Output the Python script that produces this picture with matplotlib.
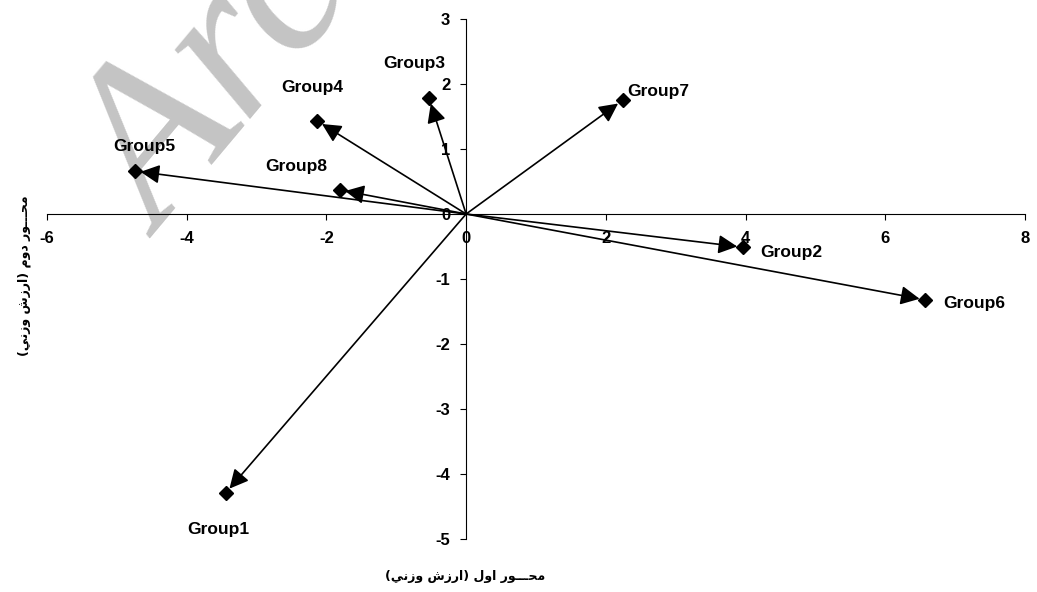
import matplotlib
matplotlib.use('Agg')
import matplotlib.pyplot as plt

# group coordinates on the first and second axes
groups = ['Group1', 'Group2', 'Group3', 'Group4', 'Group5', 'Group6', 'Group7', 'Group8']
axis1 = [-3.44, 3.96, -0.53, -2.13, -4.74, 6.57, 2.24, -1.81]
axis2 = [-4.29, -0.51, 1.78, 1.43, 0.66, -1.32, 1.75, 0.37]

xticks = [-6, -4, -2, 0, 2, 4, 6, 8]
yticks = [-5, -4, -3, -2, -1, 0, 1, 2, 3]

xlabel_text = 'محـــور اول (ارزش وزني)'
ylabel_text = 'محـــور دوم (ارزش وزني)'

# where each group name sits relative to its point (pixels)
label_offsets = [(-7, -37), (49, -5), (-15, 35), (-5, 34), (9, 25), (49, -4), (36, 9), (-43, 23)]

# matplotlib has no arabic shaping, so pick the joined glyph forms by hand
FORMS = {
    'ا': ('\ufe8d', '\ufe8e', None, None),
    'د': ('\ufea9', '\ufeaa', None, None),
    'ر': ('\ufead', '\ufeae', None, None),
    'ز': ('\ufeaf', '\ufeb0', None, None),
    'و': ('\ufeed', '\ufeee', None, None),
    'ح': ('\ufea1', '\ufea2', '\ufea3', '\ufea4'),
    'ش': ('\ufeb5', '\ufeb6', '\ufeb7', '\ufeb8'),
    'ل': ('\ufedd', '\ufede', '\ufedf', '\ufee0'),
    'م': ('\ufee1', '\ufee2', '\ufee3', '\ufee4'),
    'ن': ('\ufee5', '\ufee6', '\ufee7', '\ufee8'),
    'ي': ('\ufef1', '\ufef2', '\ufef3', '\ufef4'),
}
TATWEEL = '\u0640'


def joins_left(c):
    return c == TATWEEL or (c in FORMS and FORMS[c][2] is not None)


def joins_right(c):
    return c == TATWEEL or c in FORMS


def shape(s):
    out = []
    for i, c in enumerate(s):
        if c not in FORMS:
            out.append(c)
            continue
        prev = s[i - 1] if i > 0 else ''
        nxt = s[i + 1] if i + 1 < len(s) else ''
        a = joins_left(prev)
        b = FORMS[c][2] is not None and joins_right(nxt)
        iso, fin, ini, med = FORMS[c]
        out.append(med if (a and b) else fin if a else ini if b else iso)
    mirror = {'(': ')', ')': '('}
    return ''.join(mirror.get(c, c) for c in reversed(out))


plt.rcParams['font.family'] = ['Liberation Sans', 'DejaVu Sans']
plt.rcParams['font.weight'] = 'bold'

fig = plt.figure(figsize=(10.37, 5.92), dpi=100)
ax = fig.add_axes([0.0453, 0.0895, 0.9431, 0.8784])

# faded archive stamp behind the plot
ax.text(0.04, 0.625, 'Archive of SID', transform=fig.transFigure, rotation=50,
        fontsize=160, family='Liberation Serif', style='italic', fontweight='normal',
        color='#c4c4c4', ha='left', va='baseline', zorder=0, clip_on=False)

for name, x, y, off in zip(groups, axis1, axis2, label_offsets):
    ax.annotate('', xy=(x, y), xytext=(0, 0),
                arrowprops=dict(arrowstyle='-|>,head_length=0.5,head_width=0.25',
                                color='black', lw=1.2, mutation_scale=23,
                                shrinkA=0, shrinkB=4), zorder=3)
    ax.plot(x, y, marker='D', ms=7.5, color='black', ls='none', zorder=4)
    ax.annotate(name, xy=(x, y), xytext=off, textcoords='offset pixels',
                ha='center', va='center', fontsize=12.5, fontweight='bold', zorder=5)

ax.set_xlim(-6, 8)
ax.set_ylim(-5, 3)
ax.set_xticks(xticks)
ax.set_yticks(yticks)
ax.set_xticklabels([str(t) for t in xticks], fontweight='bold')
ax.set_yticklabels([str(t) for t in yticks], fontweight='bold')

for side in ['top', 'right']:
    ax.spines[side].set_visible(False)
ax.spines['left'].set_position(('data', 0))
ax.spines['bottom'].set_position(('data', 0))
for side in ['left', 'bottom']:
    ax.spines[side].set_linewidth(0.8)

ax.tick_params(axis='both', direction='out', length=4.5, width=0.8, labelsize=12)
ax.tick_params(axis='x', pad=8)
ax.tick_params(axis='y', pad=7)

fig.text(0.449, 0.027, shape(xlabel_text), ha='center', va='center', fontsize=9,
         fontweight='bold', family=['DejaVu Sans'])
fig.text(0.023, 0.535, shape(ylabel_text), ha='center', va='center', rotation=90,
         fontsize=9, fontweight='bold', family=['DejaVu Sans'])

fig.savefig('out.png', dpi=100)
